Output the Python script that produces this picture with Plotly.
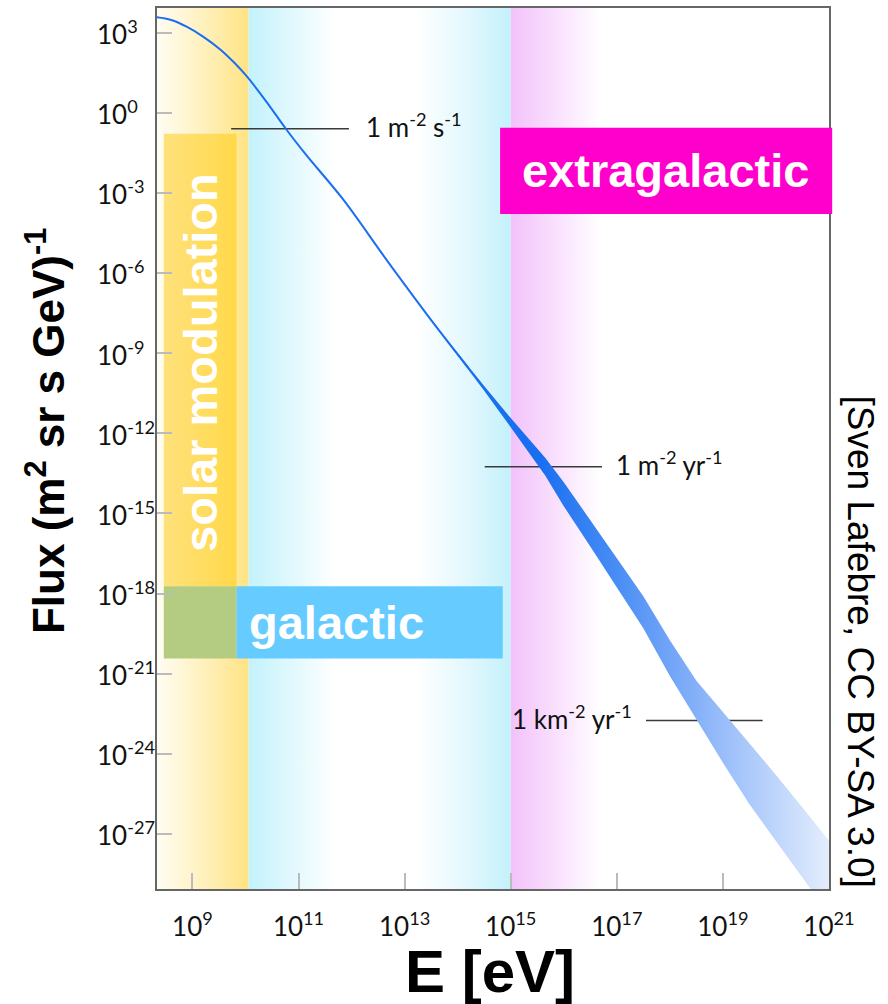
import plotly.graph_objects as go

# ---------------- data (log10 values) ----------------
X_RANGE = [8.332, 21.0]           # log10 E [eV]
Y_RANGE = [-29.06, 3.92]          # log10 flux

x_tick_exp = [9, 11, 13, 15, 17, 19, 21]
y_tick_exp = [3, 0, -3, -6, -9, -12, -15, -18, -21, -24, -27]

# thin low-energy part of the spectrum
line_logE = [8.33, 8.60, 8.89, 9.20, 9.53, 9.80, 10.03, 10.40, 10.76, 11.14, 11.83, 12.70, 13.66, 14.20]
line_logF = [3.57, 3.47, 3.22, 2.85, 2.36, 1.85, 1.35, 0.40, -0.60, -1.57, -3.22, -5.62, -8.18, -9.55]

# widening band (upper / lower edges)
band_logE = [13.66, 14.0, 14.5, 15.0, 15.65, 16.0, 16.5, 17.0, 17.5, 18.0, 18.5, 19.0, 19.5, 20.0, 20.5, 21.0]
band_upper = [-8.15, -9.00, -10.23, -11.43, -12.92, -13.83, -15.24, -16.65, -18.10, -19.75, -21.26, -22.43, -23.59, -24.79, -26.01, -27.25]
band_lower = [-8.21, -9.10, -10.41, -11.77, -13.58, -14.73, -16.24, -17.75, -19.30, -21.09, -22.70, -24.33, -25.89, -27.29, -28.65, -30.01]

# reference flux levels
ref_labels = ["1 m<sup>-2</sup> s<sup>-1</sup>", "1 m<sup>-2</sup> yr<sup>-1</sup>", "1 km<sup>-2</sup> yr<sup>-1</sup>"]
ref_E0 = [9.73, 14.51, 17.55]
ref_E1 = [11.95, 16.72, 19.75]
ref_F = [-0.60, -13.25, -22.75]
ref_text_E = [12.24, 16.95, 17.33]
ref_text_anchor = ["left", "left", "right"]

# background regions (log E)
solar_region = [8.332, 10.06]
galactic_region = [10.06, 15.0]
extragal_region = [15.0, 16.7]

# label boxes (log E0, log E1, log F0, log F1)
solar_box = [8.46, 9.83, -17.73, -0.79]
green_box = [8.46, 9.83, -20.43, -17.73]
galactic_box = [9.83, 14.85, -20.43, -17.73]
extragal_box = [14.80, 21.06, -3.79, -0.56]

# ---------------- helpers ----------------
W, H = 888, 1004
ML, MR, MT, MB = 157, 59, 6, 115
PW, PH = W - ML - MR, H - MT - MB

def px_x(px):
    return (px - ML) / PW

def px_y(py):
    return (H - MB - py) / PH

def lx_paper(le):
    return (le - X_RANGE[0]) / (X_RANGE[1] - X_RANGE[0])

def ly_paper(lf):
    return (lf - Y_RANGE[0]) / (Y_RANGE[1] - Y_RANGE[0])

def p10(v):
    return [10.0 ** float(a) for a in v]

def rect(x0, x1, y0, y1):
    return p10([x0, x1, x1, x0, x0]), p10([y0, y0, y1, y1, y0])

fig = go.Figure()

# background gradient regions
YLO, YHI = Y_RANGE[0] - 2, Y_RANGE[1] + 2
def region(xr, cscale):
    xs, ys = rect(xr[0], xr[1], YLO, YHI)
    fig.add_trace(go.Scatter(x=xs, y=ys, mode="lines", line=dict(width=0),
                             fill="toself", fillcolor="rgba(0,0,0,0)",
                             fillgradient=dict(type="horizontal", colorscale=cscale),
                             hoverinfo="skip", showlegend=False))

region(solar_region, [[0, "#FFFDF4"], [0.5, "#FFF1BE"], [1, "#FFE384"]])
region(galactic_region, [[0, "#C3F2FC"], [0.12, "#D9F7FD"], [0.33, "#FFFFFF"],
                         [0.64, "#FFFFFF"], [0.85, "#E0F7FD"], [1, "#C3F1FB"]])
region(extragal_region, [[0, "#F2C2FB"], [0.5, "#F9E0FD"], [1, "#FFFFFF"]])

# label boxes
xs, ys = rect(*solar_box)
fig.add_trace(go.Scatter(x=xs, y=ys, mode="lines", line=dict(width=0), fill="toself",
                         fillcolor="#FFDD60",
                         fillgradient=dict(type="horizontal",
                                           colorscale=[[0, "#FFE17C"], [1, "#FFD94A"]]),
                         hoverinfo="skip", showlegend=False))
xs, ys = rect(*green_box)
fig.add_trace(go.Scatter(x=xs, y=ys, mode="lines", line=dict(width=0), fill="toself",
                         fillcolor="#B3CC82", hoverinfo="skip", showlegend=False))
xs, ys = rect(*galactic_box)
fig.add_trace(go.Scatter(x=xs, y=ys, mode="lines", line=dict(width=0), fill="toself",
                         fillcolor="#66CBFF", hoverinfo="skip", showlegend=False))

# reference lines
for e0, e1, f in zip(ref_E0, ref_E1, ref_F):
    fig.add_trace(go.Scatter(x=p10([e0, e1]), y=p10([f, f]), mode="lines",
                             line=dict(color="#3a3a3a", width=1.5),
                             hoverinfo="skip", showlegend=False))

# spectrum: thin line
fig.add_trace(go.Scatter(x=p10(line_logE), y=p10(line_logF), mode="lines",
                         line=dict(color="#1A6FF0", width=2, shape="spline"),
                         hoverinfo="skip", showlegend=False))
# spectrum: band with gradient
bx = p10(band_logE + band_logE[::-1])
by = p10(band_upper + band_lower[::-1])
fig.add_trace(go.Scatter(x=bx, y=by, mode="lines", line=dict(width=0), fill="toself",
                         fillcolor="#6FA3F7",
                         fillgradient=dict(type="horizontal",
                                           colorscale=[[0, "#1A6FF0"], [0.26, "#1A6FF0"],
                                                       [0.46, "#4A8EF5"], [0.635, "#7EACF8"],
                                                       [0.77, "#A5C5FA"], [1, "#E3EDFD"]]),
                         hoverinfo="skip", showlegend=False))

# extragalactic box (extends past the frame)
fig.add_shape(type="rect", xref="paper", yref="paper",
              x0=lx_paper(extragal_box[0]), x1=lx_paper(extragal_box[1]),
              y0=ly_paper(extragal_box[2]), y1=ly_paper(extragal_box[3]),
              fillcolor="#FF00CC", line=dict(width=0), layer="above")

ann = []
BOLD = "Liberation Sans"
TICKF = "Lato"
C = dict(xanchor="center", yanchor="middle", showarrow=False)
# box labels
ann.append(dict(text="<b>solar modulation</b>", x=(solar_box[0] + solar_box[1]) / 2 + 0.01,
                y=-9.34, xref="x", yref="y", textangle=-90,
                font=dict(family=BOLD, size=47, color="white"), **C))
ann.append(dict(text="<b>galactic</b>", x=10.02, y=(galactic_box[2] + galactic_box[3]) / 2,
                xref="x", yref="y", xanchor="left", yanchor="middle", showarrow=False,
                font=dict(family=BOLD, size=47, color="white")))
ann.append(dict(text="<b>extragalactic</b>", x=px_x(665),
                y=ly_paper((extragal_box[2] + extragal_box[3]) / 2), xref="paper", yref="paper",
                font=dict(family=BOLD, size=47, color="white"), **C))
# reference line labels
for lab, te, f, anc in zip(ref_labels, ref_text_E, ref_F, ref_text_anchor):
    ann.append(dict(text=lab, x=te, y=f, xref="x", yref="y", xanchor=anc, yanchor="middle",
                    yshift=3, showarrow=False, font=dict(family=TICKF, size=26, color="#111")))
# y tick labels (left aligned)
for e in y_tick_exp:
    ann.append(dict(text="10<sup>%d</sup>" % e, x=px_x(95), y=e, xref="paper", yref="y",
                    xanchor="left", yanchor="middle", showarrow=False,
                    font=dict(family=TICKF, size=26, color="#111")))
# axis titles
ann.append(dict(text="<b>Flux (m<sup>2</sup> sr s GeV)<sup>-1</sup></b>", x=px_x(45), y=px_y(430),
                xref="paper", yref="paper", textangle=-90,
                font=dict(family=BOLD, size=44, color="black"), **C))
ann.append(dict(text="<b>E [eV]</b>", x=px_x(490), y=px_y(972), xref="paper", yref="paper",
                font=dict(family=BOLD, size=60, color="black"), **C))
ann.append(dict(text="[Sven Lafebre, CC BY-SA 3.0]", x=px_x(860), y=px_y(641),
                xref="paper", yref="paper", textangle=90,
                font=dict(family=BOLD, size=37, color="black"), **C))

fig.update_layout(
    width=W, height=H, margin=dict(l=ML, r=MR, t=MT, b=MB),
    paper_bgcolor="white", plot_bgcolor="white", showlegend=False,
    annotations=ann,
    xaxis=dict(type="log", range=X_RANGE, showgrid=False, zeroline=False,
               tickvals=p10(x_tick_exp), ticktext=["10<sup>%d</sup>" % e for e in x_tick_exp],
               ticks="inside", ticklen=16, tickwidth=1.5, tickcolor="#BBBBBB",
               showline=True, linecolor="#666666", linewidth=2, mirror=True,
               tickfont=dict(family=TICKF, size=26, color="#111"), ticklabelstandoff=14),
    yaxis=dict(type="log", range=Y_RANGE, showgrid=False, zeroline=False,
               tickvals=p10(y_tick_exp), showticklabels=False,
               ticks="inside", ticklen=15, tickwidth=1.5, tickcolor="#BBBBBB",
               showline=True, linecolor="#666666", linewidth=2, mirror=True),
)

fig.write_html("out.html", config={"displayModeBar": False},
               post_script="document.body.style.margin='0px';")
